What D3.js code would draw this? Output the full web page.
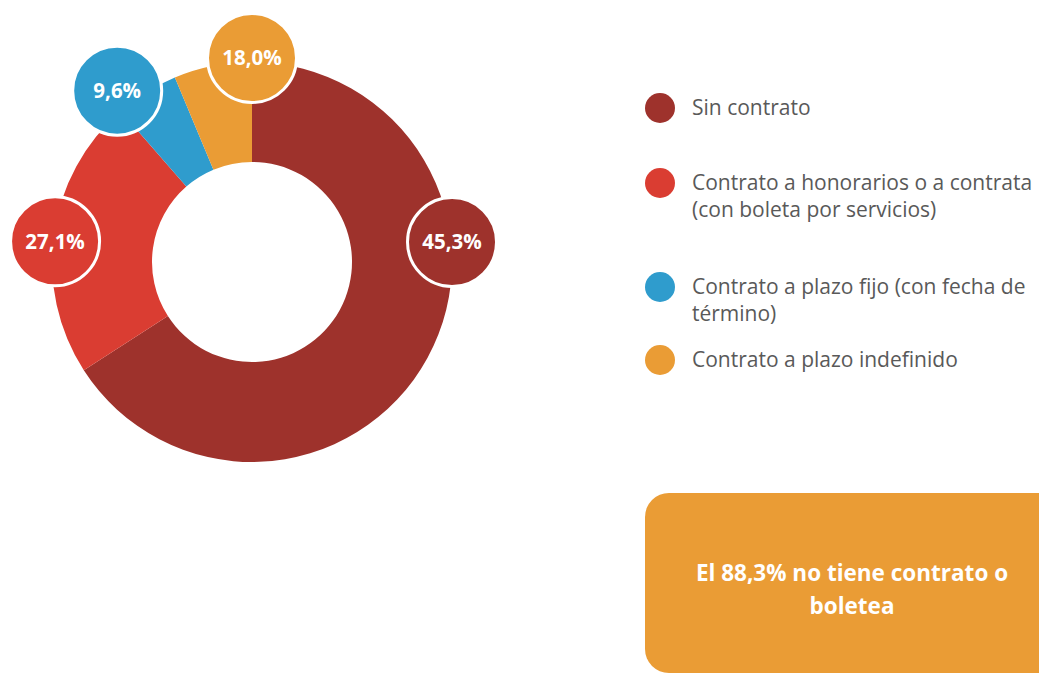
<!DOCTYPE html>
<html>
<head>
<meta charset="utf-8">
<script src="https://cdn.jsdelivr.net/npm/d3@7"></script>
<style>
  body { margin: 0; background: #fff; }
  svg { display: block; font-family: "Open Sans", "Lato", sans-serif; }
</style>
</head>
<body>
<svg id="chart" width="1039" height="676"></svg>
<script>
// categories and values
var categories = [
  "Sin contrato",
  "Contrato a honorarios o a contrata (con boleta por servicios)",
  "Contrato a plazo fijo (con fecha de término)",
  "Contrato a plazo indefinido"
];
var legendLines = [
  ["Sin contrato"],
  ["Contrato a honorarios o a contrata", "(con boleta por servicios)"],
  ["Contrato a plazo fijo (con fecha de", "término)"],
  ["Contrato a plazo indefinido"]
];
// slice sizes as drawn in the picture
var sliceValues = [65.9, 22.7, 5.1, 6.3];
// printed labels
var labelTexts = ["45,3%", "27,1%", "9,6%", "18,0%"];
var colors = ["#9e322c", "#da3d32", "#2f9ccd", "#ea9c35"];
var note = ["El 88,3% no tiene contrato o", "boletea"];

var svg = d3.select("#chart");

var cx = 252, cy = 262,
    outerRadius = 200, innerRadius = 100;

var pie = d3.pie().sort(null).value(function(d) { return d; });
var arcs = pie(sliceValues);

var arc = d3.arc().innerRadius(innerRadius).outerRadius(outerRadius);

var g = svg.append("g").attr("transform", "translate(" + cx + "," + cy + ")");

g.selectAll("path.slice")
  .data(arcs)
  .enter().append("path")
  .attr("class", "slice")
  .attr("d", arc)
  .attr("fill", function(d, i) { return colors[i]; });

// bubble placement (angle in degrees from top, distance from centre)
var bubbleAt = [[84.3, 201], [276, 198], [321.8, 218], [0, 204]];

var bubble = g.selectAll("g.bubble")
  .data(arcs)
  .enter().append("g")
  .attr("class", "bubble")
  .attr("transform", function(d, i) {
    var a = bubbleAt[i][0] * Math.PI / 180, r = bubbleAt[i][1];
    return "translate(" + (r * Math.sin(a)) + "," + (-r * Math.cos(a)) + ")";
  });

bubble.append("circle")
  .attr("r", 44.5)
  .attr("fill", function(d, i) { return colors[i]; })
  .attr("stroke", "#fff")
  .attr("stroke-width", 3);

bubble.append("text")
  .attr("text-anchor", "middle")
  .attr("dy", "0.36em")
  .attr("fill", "#fff")
  .attr("font-weight", "bold")
  .attr("font-size", 20.5)
  .text(function(d, i) { return labelTexts[i]; });

// legend
var legendY = [108, 183, 287, 360];
var legend = svg.append("g").selectAll("g")
  .data(categories)
  .enter().append("g")
  .attr("transform", function(d, i) { return "translate(660," + legendY[i] + ")"; });

legend.append("circle")
  .attr("r", 15)
  .attr("fill", function(d, i) { return colors[i]; });

legend.append("text")
  .attr("y", 7)
  .attr("fill", "#595959")
  .attr("font-size", 21)
  .selectAll("tspan")
  .data(function(d, i) { return legendLines[i]; })
  .enter().append("tspan")
  .attr("x", 32)
  .attr("dy", function(d, j) { return j === 0 ? 0 : 27; })
  .text(function(d) { return d; });

// note box
svg.append("rect")
  .attr("x", 645)
  .attr("y", 493)
  .attr("width", 420)
  .attr("height", 180)
  .attr("rx", 24)
  .attr("fill", "#ea9c35");

svg.append("text")
  .attr("text-anchor", "middle")
  .attr("fill", "#fff")
  .attr("font-weight", "bold")
  .attr("font-size", 22.5)
  .selectAll("tspan")
  .data(note)
  .enter().append("tspan")
  .attr("x", 852)
  .attr("y", function(d, i) { return 581 + i * 33; })
  .text(function(d) { return d; });
</script>
</body>
</html>
